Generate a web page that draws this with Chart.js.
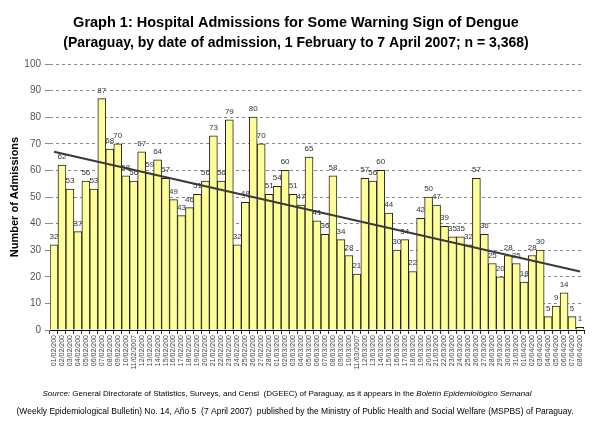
<!DOCTYPE html>
<html>
<head>
<meta charset="utf-8">
<script src="https://cdn.jsdelivr.net/npm/chart.js@4.4.1/dist/chart.umd.min.js"></script>
<style>
  html, body { margin: 0; padding: 0; background: #fff; }
  #wrap { width: 592px; height: 423px; }
</style>
</head>
<body>
<div id="wrap"><canvas id="chart" width="592" height="423"></canvas></div>
<script>
// admission dates (dd/mm), 1 Feb - 8 Apr 2007
const dates = [
  "01/02/200","02/02/200","03/02/200","04/02/200","05/02/200","06/02/200","07/02/200",
  "08/02/200","09/02/200","10/02/200","11/02/2007","12/02/200","13/02/200","14/02/200",
  "15/02/200","16/02/200","17/02/200","18/02/200","19/02/200","20/02/200","21/02/200",
  "22/02/200","23/02/200","24/02/200","25/02/200","26/02/200","27/02/200","28/02/200",
  "01/03/200","02/03/200","03/03/200","04/03/200","05/03/200","06/03/200","07/03/200",
  "08/03/200","09/03/200","10/03/200","11/03/2007","12/03/200","13/03/200","14/03/200",
  "15/03/200","16/03/200","17/03/200","18/03/200","19/03/200","20/03/200","21/03/200",
  "22/03/200","23/03/200","24/03/200","25/03/200","26/03/200","27/03/200","28/03/200",
  "29/03/200","30/03/200","31/03/200","01/04/200","02/04/200","03/04/200","04/04/200",
  "05/04/200","06/04/200","07/04/200","08/04/200"
];

const admissions = [
  32, 62, 53, 37, 56, 53, 87, 68, 70, 58, 56, 67, 59, 64, 57, 49, 43, 46, 51, 56,
  73, 56, 79, 32, 48, 80, 70, 51, 54, 60, 51, 47, 65, 41, 36, 58, 34, 28, 21, 57,
  56, 60, 44, 30, 34, 22, 42, 50, 47, 39, 35, 35, 32, 57, 36, 25, 20, 28, 25, 18,
  28, 30, 5, 9, 14, 5, 1
];

// linear trend line, read at first and last day
const trendStart = 67;
const trendEnd = 22;

const yTicks = [0, 10, 20, 30, 40, 50, 60, 70, 80, 90, 100];

const FONT = '"Liberation Sans", Arial, sans-serif';

const trend = dates.map(function(d, i){
  if (i === 0) return trendStart;
  if (i === dates.length - 1) return trendEnd;
  return null;
});

const footer1 = [
  ["Source:", true],
  " General Directorate of Statistics, Surveys, and Censi  (DGEEC) of Paraguay, as it appears in the ",
  ["Boletín Epidemiológico Semanal", true]
];
const footer2 = [
  "(Weekly Epidemiological Bulletin) No. 14, Año 5  (7 April 2007)  published by the Ministry of Public Health and Social Welfare (MSPBS) of Paraguay."
];

function drawRuns(ctx, runs, cx, y, size){
  const parts = runs.map(function(r){
    return Array.isArray(r) ? {t: r[0], it: r[1]} : {t: r, it: false};
  });
  let total = 0;
  parts.forEach(function(p){
    ctx.font = (p.it ? 'italic ' : '') + size + 'px ' + FONT;
    p.w = ctx.measureText(p.t).width;
    total += p.w;
  });
  let x = cx - total / 2;
  ctx.textAlign = 'left';
  parts.forEach(function(p){
    ctx.font = (p.it ? 'italic ' : '') + size + 'px ' + FONT;
    ctx.fillText(p.t, x, y);
    x += p.w;
  });
}

const texts = {
  id: 'texts',
  afterDraw(chart){
    const ctx = chart.ctx;
    ctx.save();
    ctx.fillStyle = '#000';
    ctx.textBaseline = 'alphabetic';
    ctx.textAlign = 'center';
    ctx.font = 'bold 14.5px ' + FONT;
    ctx.fillText('Graph 1: Hospital Admissions for Some Warning Sign of Dengue', 296, 27);
    ctx.font = 'bold 14px ' + FONT;
    ctx.fillText('(Paraguay, by date of admission, 1 February to 7 April 2007; n = 3,368)', 296, 47);
    drawRuns(ctx, footer1, 287, 396, 8);
    drawRuns(ctx, footer2, 295, 414, 8.5);
    ctx.restore();
  }
};

const barLabels = {
  id: 'barLabels',
  afterDatasetsDraw(chart){
    const ctx = chart.ctx;
    const meta = chart.getDatasetMeta(1);
    ctx.save();
    ctx.fillStyle = '#333';
    ctx.font = '8px ' + FONT;
    ctx.textAlign = 'center';
    ctx.textBaseline = 'alphabetic';
    meta.data.forEach(function(bar, i){
      ctx.fillText(String(admissions[i]), bar.x, bar.y - 6);
    });
    ctx.restore();
  }
};

const ctx = document.getElementById('chart').getContext('2d');
const myChart = new Chart(ctx, {
  type: 'bar',
  data: {
    labels: dates,
    datasets: [
      {
        type: 'line',
        data: trend,
        spanGaps: true,
        borderColor: '#3a3a3a',
        borderWidth: 2,
        pointRadius: 0,
        fill: false,
        order: 0
      },
      {
        data: admissions,
        backgroundColor: '#FFFF99',
        borderColor: '#222',
        borderWidth: 1,
        barPercentage: 1,
        categoryPercentage: 1,
        order: 1
      }
    ]
  },
  options: {
    responsive: false,
    animation: false,
    layout: { padding: { top: 64, right: 8, bottom: 48, left: 0 } },
    plugins: {
      legend: { display: false },
      tooltip: { enabled: false },
      title: { display: false }
    },
    scales: {
      x: {
        offset: true,
        grid: { drawOnChartArea: false, drawTicks: true, tickLength: 4, color: '#333', offset: true },
        border: { display: true, color: '#000', width: 1 },
        ticks: {
          autoSkip: false, maxRotation: 90, minRotation: 90,
          font: { size: 7, family: FONT }, color: '#444', padding: 1
        },
        afterFit(scale){ scale.height = 45; }
      },
      y: {
        min: 0,
        max: 100,
        afterBuildTicks(scale){ scale.ticks = yTicks.map(function(v){ return {value: v}; }); },
        ticks: { font: { size: 10, family: FONT }, color: '#555', padding: 4 },
        grid: { color: '#888', tickLength: 5 },
        border: { display: false, dash: [3, 3] },
        title: {
          display: true, text: 'Number of Admissions', color: '#000',
          font: { size: 11, weight: 'bold', family: FONT }, padding: { top: 8, bottom: 0 }
        },
        afterFit(scale){ scale.width = 50; }
      }
    }
  },
  plugins: [texts, barLabels]
});
</script>
</body>
</html>
